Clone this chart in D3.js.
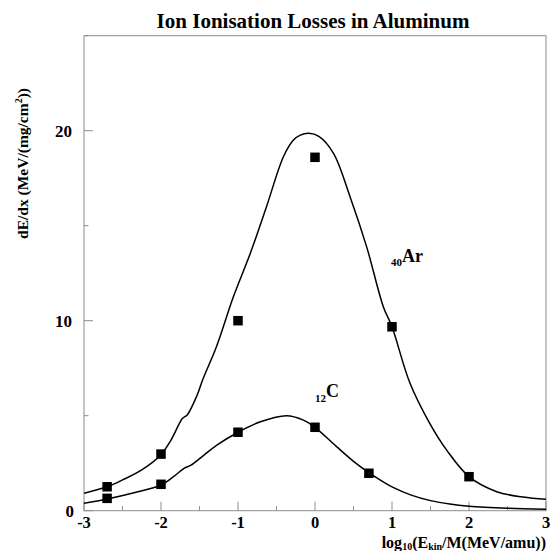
<!DOCTYPE html>
<html>
<head>
<meta charset="utf-8">
<script src="https://cdn.jsdelivr.net/npm/d3@7"></script>
<style>
  html, body { margin: 0; padding: 0; background: #fff; }
  text { font-family: "Liberation Serif", "DejaVu Serif", serif; font-weight: bold; fill: #000; }
</style>
</head>
<body>
<svg id="chart" width="552" height="551"></svg>
<script>
// Calculated stopping-power curves (log10 energy per nucleon, dE/dx)
const arCurveX = [-3.0, -2.7, -2.5, -2.25, -2.0, -1.87, -1.72, -1.66, -1.53, -1.46, -1.28, -1.06, -0.84, -0.63, -0.41, -0.28, -0.19, -0.08, 0.05, 0.24, 0.455, 0.67, 0.887, 1.0, 1.23, 1.49, 1.71, 2.0, 2.36, 2.7, 3.0];
const arCurveY = [0.92, 1.26, 1.62, 2.15, 2.95, 3.72, 4.86, 5.04, 6.09, 6.88, 8.63, 11.26, 13.55, 16.0, 18.63, 19.51, 19.77, 19.86, 19.7, 18.81, 16.53, 13.9, 10.74, 9.68, 6.75, 4.6, 3.19, 1.79, 1.0, 0.72, 0.6];

const cCurveX = [-3.0, -2.7, -2.35, -2.0, -1.85, -1.70, -1.61, -1.45, -1.27, -1.0, -0.71, -0.37, -0.15, 0.0, 0.28, 0.5, 0.70, 0.844, 1.0, 1.25, 1.5, 1.75, 2.0, 2.5, 3.0];
const cCurveY = [0.39, 0.62, 0.95, 1.35, 1.75, 2.23, 2.4, 2.9, 3.46, 4.13, 4.68, 5.0, 4.77, 4.39, 3.37, 2.6, 2.0, 1.62, 1.25, 0.82, 0.53, 0.35, 0.24, 0.13, 0.07];

// Measured points
const arDataX = [-2.7, -2.0, -1.0, 0.0, 1.0, 2.0];
const arDataY = [1.26, 2.98, 10.0, 18.6, 9.68, 1.79];
const cDataX = [-2.7, -2.0, -1.0, 0.0, 0.7];
const cDataY = [0.65, 1.39, 4.13, 4.39, 1.97];

const xMajorTicks = [-3, -2, -1, 0, 1, 2, 3];
const xMinorTicks = [-2.5, -1.5, -0.5, 0.5, 1.5, 2.5];
const yMajorTicks = [0, 10, 20];
const yMinorTicks = [5, 15, 25];

const svg = d3.select("#chart");
const padL = 84, padR = 546, padT = 35.7, padB = 510.7;
const axisColor = "#8c8c8c";

const x = d3.scaleLinear().domain([-3, 3]).range([padL, padR]);
const y = d3.scaleLinear().domain([0, 25]).range([padB, padT]);

// Frame
svg.append("rect")
  .attr("x", padL).attr("y", padT)
  .attr("width", padR - padL).attr("height", padB - padT)
  .attr("fill", "none").attr("stroke", axisColor).attr("stroke-width", 1);

// X ticks (drawn inward)
const gx = svg.append("g");
gx.selectAll("line.maj").data(xMajorTicks).join("line").attr("class", "maj")
  .attr("x1", d => x(d)).attr("x2", d => x(d))
  .attr("y1", padB).attr("y2", padB - 9)
  .attr("stroke", axisColor);
gx.selectAll("line.min").data(xMinorTicks).join("line").attr("class", "min")
  .attr("x1", d => x(d)).attr("x2", d => x(d))
  .attr("y1", padB).attr("y2", padB - 4.5)
  .attr("stroke", axisColor);
gx.selectAll("text").data(xMajorTicks).join("text")
  .attr("x", d => x(d)).attr("y", padB + 17.5)
  .attr("text-anchor", "middle").attr("font-size", 16.5)
  .text(d => String(d));

// Y ticks (drawn inward)
const gy = svg.append("g");
gy.selectAll("line.maj").data(yMajorTicks).join("line").attr("class", "maj")
  .attr("x1", padL).attr("x2", padL + 9)
  .attr("y1", d => y(d)).attr("y2", d => y(d))
  .attr("stroke", axisColor);
gy.selectAll("line.min").data(yMinorTicks).join("line").attr("class", "min")
  .attr("x1", padL).attr("x2", padL + 4.5)
  .attr("y1", d => y(d)).attr("y2", d => y(d))
  .attr("stroke", axisColor);
gy.selectAll("text").data(yMajorTicks).join("text")
  .attr("x", d => d === 0 ? 74 : 72)
  .attr("y", d => y(d) + 6)
  .attr("text-anchor", "end").attr("font-size", 17)
  .text(d => d);

// Curves
const line = d3.line()
  .x(d => x(d[0])).y(d => y(d[1]))
  .curve(d3.curveCatmullRom.alpha(0.5));

svg.append("clipPath").attr("id", "plotClip")
  .append("rect").attr("x", padL).attr("y", padT)
  .attr("width", padR - padL).attr("height", padB - padT);

const curves = [
  d3.zip(arCurveX, arCurveY),
  d3.zip(cCurveX, cCurveY)
];
svg.append("g").attr("clip-path", "url(#plotClip)")
  .selectAll("path").data(curves).join("path")
  .attr("d", line)
  .attr("fill", "none").attr("stroke", "#000").attr("stroke-width", 1.5);

// Markers
const pts = d3.zip(arDataX, arDataY).concat(d3.zip(cDataX, cDataY));
const ms = 9.5;
svg.append("g").selectAll("rect").data(pts).join("rect")
  .attr("x", d => x(d[0]) - ms / 2).attr("y", d => y(d[1]) - ms / 2)
  .attr("width", ms).attr("height", ms).attr("fill", "#000");

// Title
svg.append("text")
  .attr("x", 313).attr("y", 28)
  .attr("text-anchor", "middle").attr("font-size", 21)
  .text("Ion Ionisation Losses in Aluminum");

// Curve labels
const arLabel = svg.append("text").attr("x", 391).attr("y", 262).attr("font-size", 18);
arLabel.append("tspan").attr("font-size", 11).attr("dy", 4).text("40");
arLabel.append("tspan").attr("dy", -4).text("Ar");

const cLabel = svg.append("text").attr("x", 315).attr("y", 397).attr("font-size", 18);
cLabel.append("tspan").attr("font-size", 11).attr("dy", 5).text("12");
cLabel.append("tspan").attr("dy", -5).text("C");

// Y-axis title
const yTitle = svg.append("text")
  .attr("transform", "translate(28,88) rotate(-90)")
  .attr("text-anchor", "end").attr("font-size", 15.5);
yTitle.append("tspan").text("dE/dx (MeV/(mg/cm");
yTitle.append("tspan").attr("font-size", 10).attr("dy", -6).text("2");
yTitle.append("tspan").attr("dy", 6).text("))");

// X-axis title
const xTitle = svg.append("text")
  .attr("x", 546).attr("y", 547.5)
  .attr("text-anchor", "end").attr("font-size", 16);
xTitle.append("tspan").text("log");
xTitle.append("tspan").attr("font-size", 10).attr("dy", 2.5).text("10");
xTitle.append("tspan").attr("dy", -2.5).text("(E");
xTitle.append("tspan").attr("font-size", 10).attr("dy", 2.5).text("kin");
xTitle.append("tspan").attr("dy", -2.5).text("/M(MeV/amu))");
</script>
</body>
</html>
